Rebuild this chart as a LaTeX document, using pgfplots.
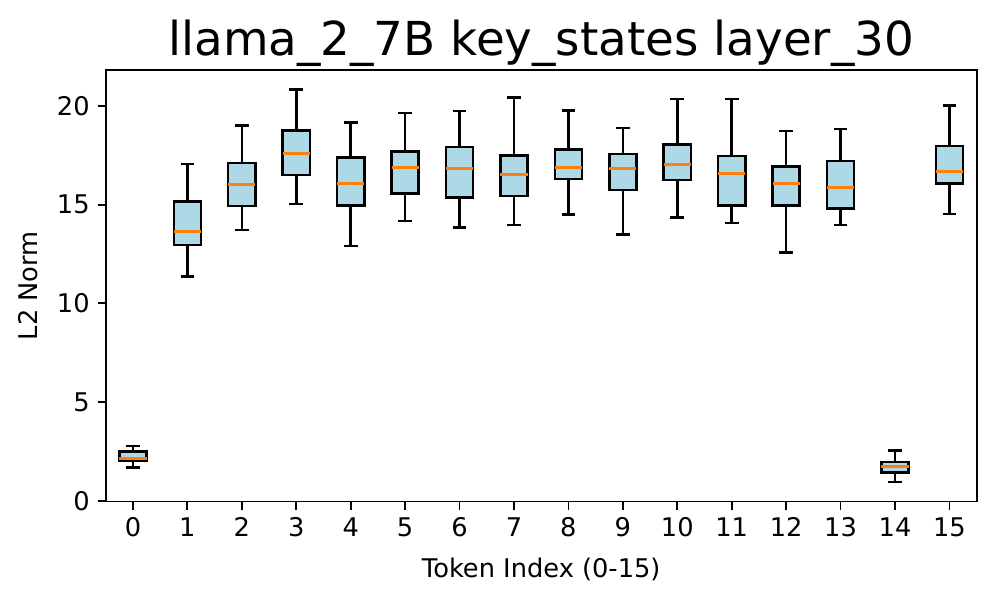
\documentclass[border=0pt]{standalone}
\usepackage{fontspec}
\setmainfont{DejaVu Sans}
\usepackage{pgfplots}
\pgfplotsset{compat=1.18}
\usepgfplotslibrary{statistics}

\definecolor{boxblue}{RGB}{173,216,230}
\definecolor{medorange}{RGB}{255,127,14}

% one box per token: position, lower whisker, lower quartile, median, upper quartile, upper whisker
\newcommand{\tokbox}[6]{%
  \addplot[boxplot prepared={draw position=#1,
      lower whisker=#2, lower quartile=#3, median=#4,
      upper quartile=#5, upper whisker=#6},
    draw=black, fill=boxblue, line width=1.1pt] coordinates {};
}

\begin{document}
\begin{tikzpicture}
\begin{axis}[
    scale only axis,
    width=379.6pt, height=188.1pt,
    xmin=-0.5, xmax=15.5,
    ymin=-0.03, ymax=21.82,
    xtick={0,1,...,15},
    ytick={0,5,10,15,20},
    tick pos=left,
    tick align=outside,
    major tick length=3.5pt,
    tick style={black, line width=0.8pt},
    axis line style={line width=0.8pt},
    /pgf/number format/assume math mode=true,
    ticklabel style={font=\fontsize{11.2}{13}\selectfont},
    title={llama\_2\_7B key\_states layer\_30},
    every axis title/.style={at={(axis description cs:0.5,1)}, anchor=base, yshift=6.5pt, font=\fontsize{20.4}{24}\selectfont},
    xlabel={Token Index (0-15)},
    ylabel={L2 Norm},
    every axis x label/.style={at={(axis description cs:0.5,-0.176)}, anchor=base, font=\fontsize{11.2}{13}\selectfont},
    every axis y label/.style={at={(axis description cs:-0.0893,0.5)}, rotate=90, anchor=center, font=\fontsize{11.2}{13}\selectfont},
    boxplot/draw direction=y,
    boxplot/box extend=0.5,
    boxplot/whisker extend=0.25,
    boxplot/every median/.style={draw=medorange, line width=1.3pt},
]
\tokbox{0}{1.69}{2.02}{2.14}{2.49}{2.78}
\tokbox{1}{11.36}{12.96}{13.65}{15.15}{17.06}
\tokbox{2}{13.72}{14.93}{16.03}{17.12}{19.02}
\tokbox{3}{15.04}{16.50}{17.60}{18.76}{20.83}
\tokbox{4}{12.91}{14.97}{16.05}{17.39}{19.16}
\tokbox{5}{14.18}{15.56}{16.87}{17.70}{19.65}
\tokbox{6}{13.84}{15.37}{16.84}{17.93}{19.75}
\tokbox{7}{13.96}{15.44}{16.54}{17.49}{20.42}
\tokbox{8}{14.50}{16.30}{16.87}{17.80}{19.78}
\tokbox{9}{13.49}{15.74}{16.82}{17.56}{18.89}
\tokbox{10}{14.36}{16.26}{17.02}{18.05}{20.35}
\tokbox{11}{14.08}{14.97}{16.57}{17.47}{20.35}
\tokbox{12}{12.58}{14.95}{16.05}{16.92}{18.72}
\tokbox{13}{13.97}{14.80}{15.86}{17.21}{18.84}
\tokbox{14}{0.96}{1.43}{1.75}{1.97}{2.54}
\tokbox{15}{14.53}{16.06}{16.70}{17.96}{20.02}
\end{axis}
\path[use as bounding box] ([shift={(-46.1pt,-42.8pt)}]current axis.south west) rectangle ([shift={(8.0pt,30.5pt)}]current axis.north east);
\end{tikzpicture}
\end{document}
